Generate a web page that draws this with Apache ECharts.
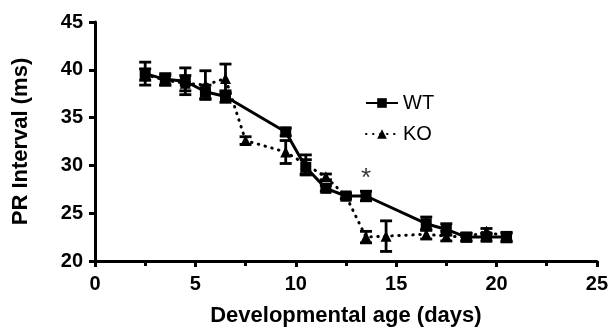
<!DOCTYPE html>
<html>
<head>
<meta charset="utf-8">
<script src="https://cdn.jsdelivr.net/npm/echarts@6/dist/echarts.min.js"></script>
<style>
  html, body { margin: 0; padding: 0; background: #fff; }
  #chart { width: 611px; height: 332px; }
</style>
</head>
<body>
<div id="chart"></div>
<script>
const wtDays = [2.5, 3.5, 4.5, 5.5, 6.5, 9.5, 10.5, 11.5, 12.5, 13.5, 16.5, 17.5, 18.5, 19.5, 20.5];
const wtMean = [39.6, 39.0, 38.8, 37.7, 37.2, 33.5, 29.8, 27.6, 26.8, 26.8, 23.9, 23.3, 22.5, 22.5, 22.5];
const wtErr = [1.2, 0.6, 1.4, 0.7, 0.6, 0.4, 0.8, 0.3, 0.3, 0.5, 0.7, 0.6, 0.4, 0.4, 0.5];

const koDays = [2.5, 3.5, 4.5, 5.5, 6.5, 7.5, 9.5, 10.5, 11.5, 12.5, 13.5, 14.5, 16.5, 17.5, 18.5, 19.5, 20.5];
const koMean = [39.5, 38.9, 38.6, 38.4, 39.1, 32.6, 31.4, 30.1, 28.8, 26.8, 22.5, 22.6, 22.8, 22.6, 22.5, 23.1, 22.5];
const koErr = [0.6, 0.5, 0.8, 1.5, 1.5, 0.4, 1.2, 1.0, 0.3, 0.3, 0.6, 1.6, 0.5, 0.5, 0.4, 0.3, 0.4];

// significance marker
const starDays = [13.5];
const starY = [28.6];

const font = '"Liberation Sans", Arial, sans-serif';

const chart = echarts.init(document.getElementById('chart'));

const errorBars = (days, mean, err, name) => ({
  name: name + ' err',
  type: 'custom',
  z: 3,
  silent: true,
  data: days.map((d, i) => [d, mean[i] - err[i], mean[i] + err[i]]),
  renderItem: (params, api) => {
    const lo = api.coord([api.value(0), api.value(1)]);
    const hi = api.coord([api.value(0), api.value(2)]);
    const cap = 6;
    const style = { stroke: '#000', lineWidth: 2.8, fill: null };
    return {
      type: 'group',
      children: [
        { type: 'line', shape: { x1: lo[0], y1: lo[1], x2: hi[0], y2: hi[1] }, style },
        { type: 'line', shape: { x1: lo[0] - cap, y1: lo[1], x2: lo[0] + cap, y2: lo[1] }, style },
        { type: 'line', shape: { x1: hi[0] - cap, y1: hi[1], x2: hi[0] + cap, y2: hi[1] }, style }
      ]
    };
  }
});

chart.setOption({
  animation: false,
  backgroundColor: '#fff',
  grid: { left: 95, right: 8, top: 22, bottom: 69 },
  legend: {
    orient: 'vertical',
    left: 360,
    top: 88,
    itemGap: 11,
    itemWidth: 32,
    itemHeight: 12,
    data: ['WT', 'KO'],
    textStyle: { fontFamily: font, fontSize: 20, color: '#000' }
  },
  xAxis: {
    type: 'value',
    min: 0,
    max: 25,
    interval: 5,
    name: 'Developmental age (days)',
    nameLocation: 'middle',
    nameGap: 44,
    nameTextStyle: { fontFamily: font, fontSize: 22, fontWeight: 'bold', color: '#000' },
    axisLine: { lineStyle: { color: '#000', width: 3 } },
    axisTick: { length: 6, lineStyle: { color: '#000', width: 3 } },
    minorTick: { show: true, splitNumber: 2, length: 5, lineStyle: { color: '#000', width: 3 } },
    axisLabel: { fontFamily: font, fontSize: 20, fontWeight: 'bold', color: '#000', margin: 13 },
    splitLine: { show: false }
  },
  yAxis: {
    type: 'value',
    min: 20,
    max: 45,
    interval: 5,
    name: 'PR Interval (ms)',
    nameLocation: 'middle',
    nameGap: 63,
    nameTextStyle: { fontFamily: font, fontSize: 22, fontWeight: 'bold', color: '#000' },
    axisLine: { show: true, lineStyle: { color: '#000', width: 3 } },
    axisTick: { show: true, length: 6, lineStyle: { color: '#000', width: 3 } },
    axisLabel: { fontFamily: font, fontSize: 20, fontWeight: 'bold', color: '#000', margin: 12 },
    splitLine: { show: false }
  },
  series: [
    errorBars(koDays, koMean, koErr, 'KO'),
    errorBars(wtDays, wtMean, wtErr, 'WT'),
    {
      name: 'WT',
      type: 'line',
      z: 4,
      data: wtDays.map((d, i) => [d, wtMean[i]]),
      symbol: 'rect',
      symbolSize: 11,
      lineStyle: { color: '#000', width: 3 },
      itemStyle: { color: '#000' }
    },
    {
      name: 'KO',
      type: 'line',
      z: 4,
      data: koDays.map((d, i) => [d, koMean[i]]),
      symbol: 'triangle',
      symbolSize: 11,
      lineStyle: { color: '#000', width: 3, type: [0.5, 6.5], cap: 'round' },
      itemStyle: { color: '#000' }
    },
    {
      name: 'sig',
      type: 'scatter',
      symbolSize: 0,
      data: starDays.map((d, i) => [d, starY[i]]),
      label: {
        show: true,
        position: 'inside',
        formatter: '*',
        fontFamily: font,
        fontSize: 26,
        color: '#000'
      }
    }
  ]
});
</script>
</body>
</html>
